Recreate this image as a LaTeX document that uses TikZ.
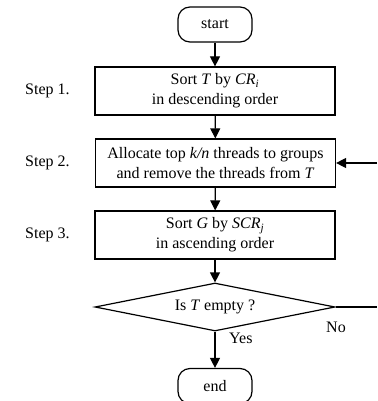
\documentclass[tikz,border=0pt]{standalone}
\usepackage{fontspec}
\setmainfont{Liberation Serif}
\usetikzlibrary{arrows.meta,shapes.geometric}
\begin{document}
\begin{tikzpicture}[x=1pt,y=-1pt,
  every node/.style={font=\fontsize{16}{20}\selectfont},
  line/.style={line width=1.2pt},
  arr/.style={line width=1.2pt,-{Triangle[length=10pt,width=10pt]}},
  term/.style={draw,line width=1.2pt,rounded corners=12pt,minimum width=74pt,minimum height=35pt,inner sep=0pt},
  proc/.style={draw,line width=1.2pt,minimum width=240pt,minimum height=48pt,inner sep=0pt,align=center},
  dec/.style={draw,line width=1.2pt,diamond,aspect=5,minimum width=240pt,minimum height=48pt,inner sep=0pt},
  steplbl/.style={anchor=west,inner sep=0pt}]
\useasboundingbox (0,0) rectangle (377,401);
\fill[white] (0,0) rectangle (377,401);
\node[term] (start) at (215,24.5) {start};
\node[proc] (b1) at (215,91) {Sort \textit{T} by \textit{CR}\textsubscript{\textit{i}}\\in descending order};
\node[proc] (b2) at (215.5,163) {Allocate top \textit{k/n} threads to groups\\and remove the threads from \textit{T}};
\node[proc] (b3) at (215,235) {Sort \textit{G} by \textit{SCR}\textsubscript{\textit{j}}\\in ascending order};
\node[dec] (d) at (215,307) {Is \textit{T} empty ?};
\node[term] (end) at (215,386) {end};
\node[steplbl] (s1) at (25,91) {Step 1.};
\node[steplbl] (s2) at (25,163) {Step 2.};
\node[steplbl] (s3) at (25,235) {Step 3.};
\coordinate (noend) at (377,307);
\coordinate (fbstart) at (377,163);
\draw[arr] (start) -- (b1);
\draw[arr] (b1) -- (b2);
\draw[arr] (b2) -- (b3);
\draw[arr] (b3) -- (d);
\draw[arr] (d) -- (end);
\draw[line] (d.east) -- (noend);
\draw[arr] (fbstart) -- (b2.east);
\node[anchor=west,inner sep=0pt] (yes) at (229,338) {Yes};
\node[inner sep=0pt] (no) at (336,327) {No};
\end{tikzpicture}
\end{document}
